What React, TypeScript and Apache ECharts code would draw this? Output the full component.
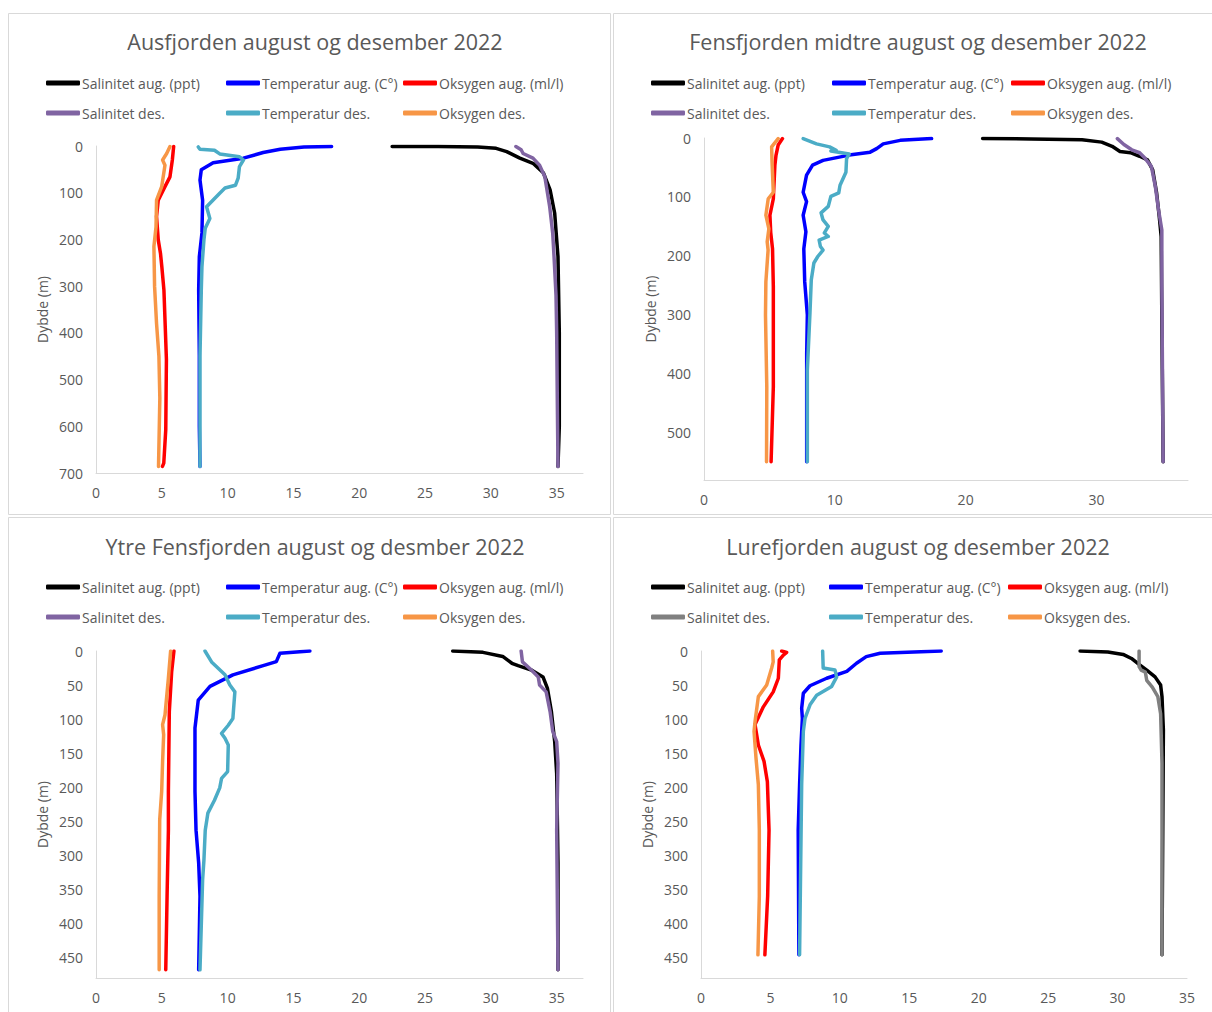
import React, { useEffect, useRef } from "react";
import * as echarts from "echarts";

// ---------- Labels ----------
const titles = [
  "Ausfjorden august og desember 2022",
  "Fensfjorden midtre august og desember 2022",
  "Ytre Fensfjorden august og desmber 2022",
  "Lurefjorden august og desember 2022",
];
const seriesNames = [
  "Salinitet aug. (ppt)",
  "Temperatur aug. (C°)",
  "Oksygen aug. (ml/l)",
  "Salinitet des.",
  "Temperatur des.",
  "Oksygen des.",
];
const yAxisName = "Dybde (m)";

// ---------- Data: [value, depth (m)] ----------
// Ausfjorden
const ausSalAug = [[22.5, 1], [26, 1.2], [29, 2], [30.4, 5], [31.2, 12], [32.2, 26], [33.2, 37], [34.0, 58], [34.5, 94], [34.85, 144], [35.1, 237], [35.2, 400], [35.2, 600], [35.1, 686]];
const ausTempAug = [[17.9, 1], [15.8, 2], [14.0, 7], [12.7, 14], [11.2, 26], [8.9, 36], [8.0, 51], [7.9, 73], [8.1, 116], [8.05, 186], [7.85, 237], [7.8, 308], [7.85, 450], [7.85, 600], [7.9, 686]];
const ausOxyAug = [[5.9, 1], [5.8, 30], [5.62, 66], [5.24, 87], [4.73, 116], [4.6, 151], [4.73, 201], [4.9, 230], [5.0, 258], [5.16, 308], [5.35, 457], [5.3, 607], [5.15, 679], [5.05, 686]];
const ausSalDes = [[31.9, 1], [32.3, 8], [32.45, 16], [33.2, 26], [33.7, 41], [34.1, 66], [34.47, 130], [34.7, 187], [34.8, 237], [34.95, 320], [35.0, 400], [35.05, 550], [35.1, 686]];
const ausTempDes = [[7.77, 2], [7.9, 7], [9.0, 9], [9.4, 17], [10.9, 23], [11.2, 30], [10.9, 44], [10.8, 69], [10.6, 84], [9.8, 90], [9.4, 101], [8.4, 130], [8.65, 155], [8.3, 176], [8.2, 201], [8.05, 258], [8.0, 308], [7.9, 450], [7.9, 686]];
const ausOxyDes = [[5.62, 1], [5.37, 16], [5.06, 30], [5.24, 41], [4.99, 87], [4.6, 116], [4.56, 173], [4.4, 215], [4.45, 300], [4.6, 380], [4.78, 450], [4.85, 540], [4.75, 686]];

// Fensfjorden midtre
const fenSalAug = [[21.3, 1], [25, 1.5], [28.9, 3], [30.4, 7], [31.2, 14], [31.8, 23], [32.6, 25], [33.3, 31], [33.9, 37], [34.3, 54], [34.6, 93], [34.8, 133], [34.95, 167], [35.0, 309], [35.1, 549]];
const fenTempAug = [[17.4, 1], [15, 4], [13.7, 10], [13.2, 18], [12.7, 24], [11.1, 29], [9.1, 38], [8.3, 46], [7.84, 63], [7.58, 92], [7.84, 108], [7.58, 131], [7.79, 159], [7.63, 188], [7.7, 244], [7.9, 300], [7.85, 365], [7.85, 549]];
const fenOxyAug = [[6.0, 1], [5.67, 12], [5.5, 30], [5.42, 46], [5.3, 103], [5.04, 131], [5.1, 160], [5.24, 188], [5.3, 252], [5.3, 422], [5.13, 549]];
const fenSalDes = [[31.6, 1], [32.1, 11], [32.7, 20], [33.3, 25], [33.7, 34], [34.2, 48], [34.5, 82], [34.75, 122], [35.0, 156], [35.0, 250], [35.1, 549]];
const fenTempDes = [[7.58, 1], [8.6, 10], [9.6, 15], [10.1, 21], [9.7, 22], [11.1, 27], [10.9, 35], [10.85, 58], [10.4, 80], [10.3, 93], [9.7, 99], [9.5, 116], [8.95, 127], [9.1, 139], [9.5, 150], [9.2, 161], [9.5, 167], [8.8, 173], [8.9, 184], [9.1, 190], [8.7, 201], [8.4, 212], [8.2, 241], [8.1, 297], [7.9, 394], [7.9, 549]];
const fenOxyDes = [[5.67, 1], [5.17, 15], [5.2, 40], [5.3, 92], [4.91, 103], [4.73, 131], [4.96, 154], [4.83, 176], [4.9, 190], [4.73, 244], [4.7, 300], [4.8, 422], [4.78, 549]];

// Ytre Fensfjorden
const ytrSalAug = [[27.1, 0], [29.4, 2], [30.9, 8], [31.6, 18], [32.07, 21.5], [33.08, 28], [33.96, 38], [34.3, 55], [34.6, 89], [34.85, 133], [35.0, 180], [35.1, 311], [35.1, 468]];
const ytrTempAug = [[16.25, 0], [13.97, 3.4], [13.7, 15.6], [12.7, 21.5], [10.4, 35], [8.66, 52], [7.77, 72], [7.52, 113], [7.52, 206], [7.6, 263], [7.8, 311], [7.9, 360], [7.8, 468]];
const ytrOxyAug = [[5.92, 0], [5.75, 30], [5.57, 89], [5.5, 206], [5.5, 263], [5.4, 360], [5.3, 468]];
const ytrSalDes = [[32.3, 0], [32.4, 16], [33.08, 28], [33.6, 38], [33.7, 50], [34.2, 60], [34.5, 89], [34.7, 118], [35.0, 133], [35.1, 165], [35.0, 263], [35.1, 468]];
const ytrTempDes = [[8.28, 0], [8.78, 16], [9.8, 35], [10.17, 50], [10.55, 60], [10.4, 99], [10.05, 109], [9.54, 121], [9.8, 128], [10.05, 138], [10.0, 177], [9.54, 187], [9.4, 201], [9.0, 219], [8.5, 238], [8.3, 263], [8.2, 307], [8.1, 336], [7.9, 468]];
const ytrOxyDes = [[5.67, 0], [5.5, 40], [5.24, 94], [5.06, 108], [5.14, 123], [5.06, 162], [4.99, 206], [4.84, 248], [4.8, 360], [4.8, 468]];

// Lurefjorden
const lurSalAug = [[27.3, 0], [29.3, 1.5], [30.4, 5], [31.0, 11], [31.5, 19], [32.1, 28], [32.7, 38], [33.1, 50], [33.2, 67], [33.3, 116], [33.2, 446]];
const lurTempAug = [[17.3, 0], [12.9, 3.4], [11.9, 8.3], [11.2, 18], [10.5, 30], [9.05, 40], [7.85, 51], [7.37, 62], [7.25, 84], [7.3, 99], [7.2, 138], [7.1, 196], [7.0, 263], [7.05, 446]];
const lurOxyAug = [[5.81, 0], [6.17, 2], [5.93, 6], [5.64, 13], [5.57, 40], [5.2, 60], [4.49, 82], [3.89, 108], [4.13, 138], [4.54, 162], [4.78, 192], [4.9, 263], [4.8, 360], [4.6, 446]];
const lurSalDes = [[31.55, 0], [31.55, 23], [31.7, 28], [32.0, 31], [32.1, 43], [32.5, 53], [32.9, 67], [33.1, 92], [33.2, 165], [33.2, 446]];
const lurTempDes = [[8.76, 0], [8.8, 25], [9.65, 28], [9.77, 38], [9.41, 52], [8.33, 65], [7.85, 79], [7.49, 99], [7.37, 118], [7.25, 196], [7.1, 446]];
const lurOxyDes = [[5.16, 0], [5.2, 16], [5.09, 25], [4.73, 50], [4.13, 67], [3.89, 104], [3.82, 118], [3.96, 157], [4.13, 196], [4.2, 263], [4.2, 360], [4.1, 446]];

const panelData = [
  [ausSalAug, ausTempAug, ausOxyAug, ausSalDes, ausTempDes, ausOxyDes],
  [fenSalAug, fenTempAug, fenOxyAug, fenSalDes, fenTempDes, fenOxyDes],
  [ytrSalAug, ytrTempAug, ytrOxyAug, ytrSalDes, ytrTempDes, ytrOxyDes],
  [lurSalAug, lurTempAug, lurOxyAug, lurSalDes, lurTempDes, lurOxyDes],
];

// axis ranges per panel
const xMax = [37, 37, 37, 35];
const xInterval = [5, 10, 5, 5];
const yMax = [700, 580, 480, 480];
const yInterval = [100, 100, 50, 50];

// ---------- Styling / layout ----------
const baseColors = ["#000000", "#0000ff", "#ff0000", "#8064a2", "#4bacc6", "#f79646"];
const lureSalDesColor = "#808080";
const gridBoxes = [
  { left: 96, top: 146, width: 487, height: 327 },
  { left: 704, top: 138, width: 484, height: 342 },
  { left: 96, top: 651, width: 487, height: 327 },
  { left: 701, top: 651, width: 486, height: 327 },
];
const titlePos = [
  { x: 310, y: 25 },
  { x: 913, y: 25 },
  { x: 310, y: 530 },
  { x: 913, y: 530 },
];
const legendCols = [
  [46, 226, 403],
  [651, 832, 1011],
  [46, 226, 403],
  [651, 829, 1008],
];
const legendRows = [
  [84, 114],
  [84, 114],
  [588, 618],
  [588, 618],
];
const panelRects = [
  { x: 8.5, y: 13.5, width: 602, height: 501 },
  { x: 613.5, y: 13.5, width: 602, height: 501 },
  { x: 8.5, y: 517.5, width: 602, height: 500 },
  { x: 613.5, y: 517.5, width: 602, height: 500 },
];

const FONT = "'Open Sans', 'Noto Sans', sans-serif";
const TEXT_COLOR = "#595959";
const AXIS_COLOR = "#d9d9d9";

function buildOption() {
  const grid: any[] = [];
  const xAxis: any[] = [];
  const yAxis: any[] = [];
  const series: any[] = [];
  const legend: any[] = [];
  const title: any[] = [];

  for (let p = 0; p < 4; p++) {
    grid.push({ ...gridBoxes[p], containLabel: false });
    title.push({
      text: titles[p],
      left: titlePos[p].x,
      top: titlePos[p].y,
      textAlign: "center",
      textStyle: { fontFamily: FONT, fontSize: 21.5, fontWeight: "normal", color: TEXT_COLOR },
    });
    xAxis.push({
      type: "value",
      gridIndex: p,
      min: 0,
      max: xMax[p],
      interval: xInterval[p],
      position: "bottom",
      axisLine: { show: true, onZero: false, lineStyle: { color: AXIS_COLOR, width: 1 } },
      axisTick: { show: false },
      splitLine: { show: false },
      axisLabel: {
        color: TEXT_COLOR,
        fontFamily: FONT,
        fontSize: 14,
        margin: 12,
        showMaxLabel: xMax[p] % xInterval[p] === 0,
      },
    });
    yAxis.push({
      type: "value",
      gridIndex: p,
      inverse: true,
      min: 0,
      max: yMax[p],
      interval: yInterval[p],
      name: yAxisName,
      nameLocation: "middle",
      nameGap: 47,
      nameTextStyle: { color: TEXT_COLOR, fontFamily: FONT, fontSize: 14 },
      axisLine: { show: true, onZero: false, lineStyle: { color: AXIS_COLOR, width: 1 } },
      axisTick: { show: false },
      splitLine: { show: false },
      axisLabel: {
        color: TEXT_COLOR,
        fontFamily: FONT,
        fontSize: 14,
        margin: 13,
        showMaxLabel: yMax[p] % yInterval[p] === 0,
      },
    });

    for (let s = 0; s < 6; s++) {
      const color = p === 3 && s === 3 ? lureSalDesColor : baseColors[s];
      const name = `${seriesNames[s]}|${p}`;
      series.push({
        type: "line",
        name,
        xAxisIndex: p,
        yAxisIndex: p,
        data: panelData[p][s],
        showSymbol: false,
        symbol: "none",
        color,
        lineStyle: { color, width: 3.5, cap: "round", join: "round" },
        z: 2 + s,
      });
      const col = s % 3;
      const row = Math.floor(s / 3);
      legend.push({
        data: [{ name, icon: "roundRect" }],
        left: legendCols[p][col],
        top: legendRows[p][row] - 8,
        itemWidth: 34,
        itemHeight: 5,
        itemGap: 0,
        padding: 0,
        selectedMode: false,
        formatter: (n: string) => n.split("|")[0],
        textStyle: { color: TEXT_COLOR, fontFamily: FONT, fontSize: 14, padding: [0, 0, 0, -3] },
      });
    }
  }

  const graphic = panelRects.map((r) => ({
    type: "rect",
    shape: r,
    style: { fill: "none", stroke: AXIS_COLOR, lineWidth: 1 },
    silent: true,
    z: -1,
  }));

  return {
    animation: false,
    backgroundColor: "#ffffff",
    textStyle: { fontFamily: FONT },
    title,
    grid,
    xAxis,
    yAxis,
    series,
    legend,
    graphic,
  };
}

export default function App() {
  const ref = useRef<HTMLDivElement>(null);
  useEffect(() => {
    if (!ref.current) return;
    const chart = echarts.init(ref.current, undefined, { renderer: "svg" });
    chart.setOption(buildOption() as any);
    return () => chart.dispose();
  }, []);
  return (
    <div
      ref={ref}
      style={{ position: "absolute", left: 0, top: 0, width: 1212, height: 1012, background: "#fff" }}
    />
  );
}
